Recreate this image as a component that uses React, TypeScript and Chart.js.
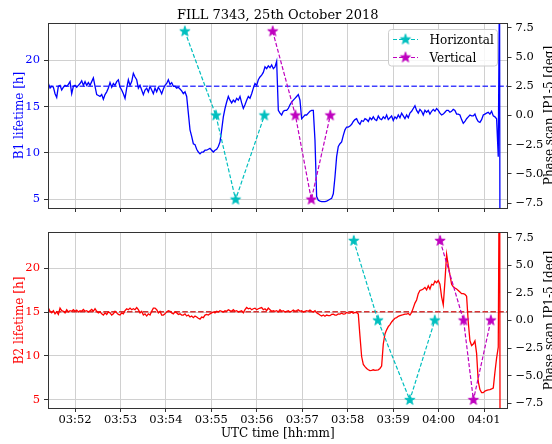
import React, { useEffect, useRef } from 'react';
import { Chart, registerables } from 'chart.js';

Chart.register(...registerables);

// ---------------- data ----------------
const TITLE = 'FILL 7343, 25th October 2018';
const X_TITLE = 'UTC time [hh:mm]';
const PHASE_TITLE = 'Phase scan IP1-5 [deg]';

const timeTicks = ['03:52', '03:53', '03:54', '03:55', '03:56', '03:57', '03:58', '03:59', '04:00', '04:01'];
const lifetimeTicks = [5, 10, 15, 20];
const phaseTicks = [-7.5, -5, -2.5, 0, 2.5, 5, 7.5];

const SERIES_START = '03:51:24.8';
const SAMPLE_STEP = 2.2; // seconds between lifetime samples

const b1Lifetime = [
  17.5, 17.0, 17.2, 17.1, 16.4, 16.0, 17.2, 17.3, 16.8, 17.1, 17.3, 17.2, 17.4, 17.7, 16.4, 17.2, 17.3, 17.1, 17.3, 17.5,
  17.8, 17.3, 17.7, 17.3, 17.6, 17.3, 17.7, 18.1, 17.2, 16.3, 16.2, 16.1, 16.3, 15.8, 16.3, 16.6, 17.0, 17.6, 17.1, 17.5,
  17.3, 17.7, 17.9, 17.1, 16.8, 16.4, 15.9, 17.0, 17.9, 17.3, 17.7, 18.6, 18.2, 17.9, 17.0, 17.3, 16.8, 16.3, 16.8, 17.0,
  16.6, 17.2, 16.8, 16.4, 17.0, 16.6, 17.1, 16.8, 16.4, 16.9, 17.3, 17.5, 17.9, 17.4, 17.6, 17.2, 17.2, 17.0, 17.1, 16.9,
  16.7, 16.4, 16.6, 16.1, 14.3, 12.5, 11.8, 11.0, 10.9, 10.4, 10.1, 9.9, 10.1, 10.1, 10.3, 10.3, 10.4, 10.5, 10.3, 10.1,
  10.3, 10.4, 10.7, 11.2, 12.5, 13.9, 14.8, 15.5, 16.1, 15.7, 15.4, 15.7, 15.5, 15.9, 15.7, 16.1, 15.4, 14.8, 15.2, 15.7,
  16.1, 15.9, 16.4, 17.0, 17.5, 17.3, 17.9, 18.2, 18.4, 18.7, 19.3, 19.1, 19.4, 19.2, 19.5, 19.1, 19.3, 19.9, 14.6, 14.3,
  14.1, 14.5, 14.6, 14.6, 14.8, 15.2, 15.5, 15.7, 15.9, 16.1, 16.3, 15.7, 13.7, 13.9, 14.1, 14.1, 14.3, 14.5, 14.6, 14.6,
  11.4, 5.3, 4.9, 4.8, 4.75, 4.75, 4.75, 4.8, 4.9, 5.0, 5.1, 5.6, 7.4, 9.6, 10.7, 11.0, 11.2, 11.9, 12.5, 12.8,
  12.8, 12.9, 13.1, 13.4, 13.6, 13.7, 13.3, 13.1, 13.5, 13.4, 13.7, 13.6, 13.4, 13.8, 13.6, 13.9, 13.6, 13.5, 14.0, 13.7,
  13.6, 13.9, 13.7, 14.1, 13.6, 13.8, 14.0, 13.5, 13.9, 13.7, 14.1, 13.8, 14.3, 14.0, 13.7, 14.1, 13.8, 14.3, 14.5, 14.8,
  15.1, 14.6, 14.3, 14.7, 14.5, 14.1, 14.6, 14.4, 14.6, 14.2, 14.5, 14.7, 14.5, 14.8, 14.6, 14.3, 14.1, 14.2, 14.4, 14.6,
  14.6, 14.4, 14.5, 14.7, 14.6, 14.2, 14.2, 14.1, 13.6, 13.2, 13.4, 13.7, 13.9, 14.1, 14.0, 14.0, 14.2, 13.7, 13.4, 13.3,
  13.6, 14.1, 14.2, 14.3, 14.4, 14.2, 14.5, 14.0, 13.9, 13.7, 9.6,
];
const b1DumpTimes = ['04:01:20.5', '04:01:21.2'];
const b1DumpValues = [30, -10];
const b1Reference = 17.2;

const b2Lifetime = [
  15.45, 15.09, 14.91, 15.16, 14.80, 15.02, 14.73, 15.45, 15.16, 15.09, 14.91, 15.27, 15.02, 15.16, 15.09, 15.27, 15.09, 15.23, 15.02, 15.16,
  15.09, 15.30, 15.09, 15.16, 15.02, 15.16, 15.30, 15.09, 15.38, 15.09, 14.91, 15.02, 14.80, 14.66, 14.91, 14.73, 15.02, 14.91, 14.66, 14.80,
  15.09, 14.91, 14.73, 14.66, 14.91, 14.80, 15.16, 15.38, 15.27, 15.45, 15.27, 15.38, 15.27, 15.52, 15.27, 14.91, 15.09, 14.66, 14.80, 14.55,
  14.80, 14.66, 15.09, 15.45, 15.45, 15.27, 14.91, 15.09, 14.66, 14.66, 14.80, 15.02, 15.16, 15.09, 14.91, 14.80, 15.02, 14.91, 14.73, 14.80,
  14.66, 14.66, 14.80, 14.55, 14.66, 14.44, 14.55, 14.37, 14.55, 14.44, 14.30, 14.19, 14.44, 14.37, 14.66, 14.73, 14.66, 14.80, 14.91, 15.02,
  14.91, 15.09, 15.02, 15.16, 15.09, 15.02, 15.16, 15.09, 15.27, 15.16, 15.09, 15.27, 15.09, 15.16, 15.02, 15.09, 15.16, 14.91, 15.27, 15.52,
  15.38, 15.45, 15.27, 15.38, 15.45, 15.27, 15.38, 15.45, 15.52, 15.27, 15.38, 15.16, 15.45, 15.27, 15.09, 15.16, 15.09, 15.16, 15.02, 15.27,
  15.09, 15.16, 15.02, 15.09, 15.16, 15.02, 15.09, 15.23, 15.09, 15.16, 15.27, 15.09, 15.16, 15.02, 15.09, 15.16, 15.09, 15.23, 15.09, 15.02,
  15.16, 14.91, 14.80, 14.66, 14.55, 14.66, 14.52, 14.66, 14.59, 14.59, 14.73, 14.77, 14.66, 14.66, 14.80, 14.77, 14.87, 14.77, 14.80, 14.95,
  14.87, 14.87, 15.02, 14.87, 14.95, 14.95, 14.77, 12.26, 9.93, 9.03, 8.78, 8.57, 8.42, 8.32, 8.35, 8.42, 8.35, 8.39, 8.42, 8.57,
  8.85, 11.36, 12.51, 12.97, 13.33, 13.58, 13.87, 14.09, 14.30, 14.37, 14.52, 14.59, 14.66, 14.70, 14.77, 14.77, 14.84, 14.66, 14.95, 15.48,
  16.02, 16.38, 17.10, 17.46, 17.53, 17.63, 17.81, 17.53, 17.99, 17.63, 18.17, 18.10, 18.53, 18.35, 18.60, 18.17, 16.74, 15.84, 18.53, 21.58,
  20.32, 19.25, 18.17, 17.89, 17.74, 17.63, 17.46, 17.28, 17.10, 17.10, 17.03, 16.81, 13.87, 11.72, 11.18, 11.36, 11.72, 10.29, 7.06, 6.16,
  5.81, 5.81, 5.99, 6.06, 6.13, 6.16, 6.24, 6.34, 8.14, 9.75, 11.0,
];
const b2DumpTimes = ['04:01:20.6', '04:01:21.3'];
const b2DumpValues = [40, -10];
const b2Reference = 15.05;

// phase scan points (time, phase in deg)
const b1HorizontalTimes = ['03:54:25', '03:55:06', '03:55:32', '03:56:10'];
const b1HorizontalPhase = [7.2, 0, -7.2, 0];
const b1VerticalTimes = ['03:56:21', '03:56:51', '03:57:12', '03:57:37'];
const b1VerticalPhase = [7.2, 0, -7.2, 0];
const b2HorizontalTimes = ['03:58:08', '03:58:40', '03:59:22', '03:59:55'];
const b2HorizontalPhase = [7.2, 0, -7.2, 0];
const b2VerticalTimes = ['04:00:02', '04:00:33', '04:00:46', '04:01:09'];
const b2VerticalPhase = [7.2, 0, -7.2, 0];

// axis limits
const X_MIN = '03:51:24.3';
const X_MAX = '04:01:31';
const LIFE_MIN = 4.06;
const LIFE_MAX = 24.03;
const PHASE_MIN = -7.92;
const PHASE_MAX = 7.92;

// ---------------- helpers ----------------
const FONT = '"DejaVu Serif", serif';
const CYAN = '#00bfbf';
const MAGENTA = '#bf00bf';

const toSec = (s: string) => {
  const p = s.split(':').map(Number);
  return p[0] * 3600 + p[1] * 60 + (p[2] || 0);
};
const fmtTime = (v: number) => {
  const h = Math.floor(v / 3600);
  const m = Math.round((v - h * 3600) / 60);
  return String(h).padStart(2, '0') + ':' + String(m).padStart(2, '0');
};
const fmtPhase = (v: number) => (v < 0 ? '\u2212' : '') + Math.abs(v).toFixed(1);

function makeStar(color: string) {
  const size = 14;
  const c = document.createElement('canvas');
  c.width = size;
  c.height = size;
  const g = c.getContext('2d')!;
  const R = 5.4;
  const r = R * 0.382;
  const cx = size / 2;
  const cy = size / 2;
  g.beginPath();
  for (let k = 0; k < 10; k++) {
    const ang = -Math.PI / 2 + (k * Math.PI) / 5;
    const rad = k % 2 ? r : R;
    g.lineTo(cx + rad * Math.cos(ang), cy + rad * Math.sin(ang));
  }
  g.closePath();
  g.fillStyle = color;
  g.fill();
  g.strokeStyle = color;
  g.lineWidth = 1;
  g.stroke();
  return c;
}

const seriesPoints = (values: number[], dumpTimes: string[], dumpValues: number[]) => {
  const t0 = toSec(SERIES_START);
  return [
    ...values.map((v, i) => ({ x: t0 + i * SAMPLE_STEP, y: v })),
    ...dumpTimes.map((t, i) => ({ x: toSec(t), y: dumpValues[i] })),
  ];
};
const scanPoints = (times: string[], phase: number[]) => times.map((t, i) => ({ x: toSec(t), y: phase[i] }));

type Panel = {
  top: boolean;
  color: string;
  refColor: string;
  lifeLabel: string;
  lifetime: number[];
  dumpTimes: string[];
  dumpValues: number[];
  reference: number;
  hTimes: string[];
  hPhase: number[];
  vTimes: string[];
  vPhase: number[];
};

function buildConfig(p: Panel, starC: HTMLCanvasElement, starM: HTMLCanvasElement): any {
  const xMin = toSec(X_MIN);
  const xMax = toSec(X_MAX);
  const decor = {
    id: 'decor',
    afterDraw(chart: any) {
      const { ctx, chartArea: a } = chart;
      ctx.save();
      // spines
      ctx.strokeStyle = '#333333';
      ctx.lineWidth = 1;
      const l = Math.floor(a.left) + 0.5;
      const t = Math.floor(a.top) + 0.5;
      const r = Math.floor(a.right) + 0.5;
      const b = Math.floor(a.bottom) + 0.5;
      ctx.strokeRect(l, t, r - l, b - t);
      const cy = (a.top + a.bottom) / 2;
      const cx = (a.left + a.right) / 2;
      // left label
      ctx.font = '12px ' + FONT;
      ctx.textAlign = 'center';
      ctx.textBaseline = 'alphabetic';
      ctx.fillStyle = p.color;
      ctx.save();
      ctx.translate(22.5, cy);
      ctx.rotate(-Math.PI / 2);
      ctx.fillText(p.lifeLabel, 0, 0);
      ctx.restore();
      // right label
      ctx.fillStyle = '#000';
      ctx.save();
      ctx.translate(553, cy);
      ctx.rotate(-Math.PI / 2);
      ctx.fillText(PHASE_TITLE, 0, 0);
      ctx.restore();
      if (p.top) {
        ctx.font = '13px ' + FONT;
        ctx.fillText(TITLE, cx, 19);
        // legend
        const bx = 388.5, by = 29.5, bw = 109, bh = 36.5, rr = 3;
        ctx.beginPath();
        ctx.moveTo(bx + rr, by);
        ctx.arcTo(bx + bw, by, bx + bw, by + bh, rr);
        ctx.arcTo(bx + bw, by + bh, bx, by + bh, rr);
        ctx.arcTo(bx, by + bh, bx, by, rr);
        ctx.arcTo(bx, by, bx + bw, by, rr);
        ctx.closePath();
        ctx.fillStyle = 'rgba(255,255,255,0.8)';
        ctx.fill();
        ctx.strokeStyle = '#cccccc';
        ctx.stroke();
        const rows = [
          { y: 39.5, color: CYAN, star: starC, text: 'Horizontal' },
          { y: 57.5, color: MAGENTA, star: starM, text: 'Vertical' },
        ];
        ctx.font = '12px ' + FONT;
        ctx.textAlign = 'left';
        for (const row of rows) {
          ctx.strokeStyle = row.color;
          ctx.lineWidth = 1.2;
          ctx.setLineDash([4, 2]);
          ctx.beginPath();
          ctx.moveTo(393, row.y);
          ctx.lineTo(418, row.y);
          ctx.stroke();
          ctx.setLineDash([]);
          ctx.drawImage(row.star, 405.5 - 7, row.y - 7);
          ctx.fillStyle = '#000';
          ctx.fillText(row.text, 429.5, row.y + 4);
        }
      } else {
        ctx.font = '12px ' + FONT;
        ctx.textAlign = 'center';
        ctx.fillStyle = '#000';
        ctx.fillText(X_TITLE, cx, 215);
      }
      ctx.restore();
    },
  };

  return {
    type: 'line',
    data: {
      datasets: [
        {
          data: scanPoints(p.hTimes, p.hPhase),
          yAxisID: 'yPhase',
          borderColor: CYAN,
          borderWidth: 1.2,
          borderDash: [4, 2],
          pointStyle: starC,
          pointRadius: 6,
          clip: false,
          order: 0,
        },
        {
          data: scanPoints(p.vTimes, p.vPhase),
          yAxisID: 'yPhase',
          borderColor: MAGENTA,
          borderWidth: 1.2,
          borderDash: [4, 2],
          pointStyle: starM,
          pointRadius: 6,
          clip: false,
          order: 0,
        },
        {
          data: [
            { x: xMin, y: p.reference },
            { x: xMax, y: p.reference },
          ],
          yAxisID: 'yLife',
          borderColor: p.refColor,
          borderWidth: 1.5,
          borderDash: [5.5, 2.4],
          pointRadius: 0,
          order: 2,
        },
        {
          data: seriesPoints(p.lifetime, p.dumpTimes, p.dumpValues),
          yAxisID: 'yLife',
          borderColor: p.color,
          borderWidth: 1.3,
          pointRadius: 0,
          clip: 0,
          order: 1,
        },
      ],
    },
    options: {
      animation: false,
      responsive: false,
      devicePixelRatio: 1,
      events: [],
      layout: { padding: { top: p.top ? 23 : 0.5, left: 0, right: 0, bottom: 0 } },
      plugins: { legend: { display: false }, tooltip: { enabled: false }, title: { display: false } },
      scales: {
        x: {
          type: 'linear',
          min: xMin,
          max: xMax,
          afterBuildTicks: (s: any) => {
            s.ticks = timeTicks.map((t) => ({ value: toSec(t) }));
          },
          afterFit: (s: any) => {
            s.height = p.top ? 14 : 36;
          },
          ticks: {
            display: !p.top,
            autoSkip: false,
            maxRotation: 0,
            padding: 1,
            color: '#000',
            font: { family: FONT, size: 11.5 },
            callback: (v: number) => fmtTime(v),
          },
          grid: { color: '#d0d0d0', lineWidth: 1, tickColor: '#333', tickLength: 4 },
          border: { display: false },
        },
        yLife: {
          type: 'linear',
          position: 'left',
          min: LIFE_MIN,
          max: LIFE_MAX,
          afterBuildTicks: (s: any) => {
            s.ticks = lifetimeTicks.map((v) => ({ value: v }));
          },
          afterFit: (s: any) => {
            s.width = 48;
          },
          ticks: { color: p.color, padding: 4, font: { family: FONT, size: 11.5 } },
          grid: { color: '#d0d0d0', lineWidth: 1, tickColor: '#333', tickLength: 4 },
          border: { display: false },
        },
        yPhase: {
          type: 'linear',
          position: 'right',
          min: PHASE_MIN,
          max: PHASE_MAX,
          afterBuildTicks: (s: any) => {
            s.ticks = phaseTicks.map((v) => ({ value: v }));
          },
          afterFit: (s: any) => {
            s.width = 44.5;
          },
          ticks: {
            color: '#000',
            padding: 4,
            font: { family: FONT, size: 11.5 },
            callback: (v: number) => fmtPhase(v),
          },
          grid: { drawOnChartArea: false, tickColor: '#333', tickLength: 4 },
          border: { display: false },
        },
      },
    },
    plugins: [decor],
  };
}

export default function App() {
  const topRef = useRef<HTMLCanvasElement>(null);
  const botRef = useRef<HTMLCanvasElement>(null);

  useEffect(() => {
    const starC = makeStar(CYAN);
    const starM = makeStar(MAGENTA);
    const c1 = new Chart(
      topRef.current!,
      buildConfig(
        {
          top: true,
          color: '#0000ff',
          refColor: 'rgba(30,30,255,0.85)',
          lifeLabel: 'B1 lifetime [h]',
          lifetime: b1Lifetime,
          dumpTimes: b1DumpTimes,
          dumpValues: b1DumpValues,
          reference: b1Reference,
          hTimes: b1HorizontalTimes,
          hPhase: b1HorizontalPhase,
          vTimes: b1VerticalTimes,
          vPhase: b1VerticalPhase,
        },
        starC,
        starM
      )
    );
    const c2 = new Chart(
      botRef.current!,
      buildConfig(
        {
          top: false,
          color: '#ff0000',
          refColor: 'rgba(210,30,30,0.9)',
          lifeLabel: 'B2 lifetime [h]',
          lifetime: b2Lifetime,
          dumpTimes: b2DumpTimes,
          dumpValues: b2DumpValues,
          reference: b2Reference,
          hTimes: b2HorizontalTimes,
          hPhase: b2HorizontalPhase,
          vTimes: b2VerticalTimes,
          vPhase: b2VerticalPhase,
        },
        starC,
        starM
      )
    );
    return () => {
      c1.destroy();
      c2.destroy();
    };
  }, []);

  return (
    <div style={{ position: 'absolute', left: 0, top: 0, width: 552, height: 444, background: '#fff' }}>
      <canvas ref={topRef} width={552} height={222} style={{ position: 'absolute', left: 0, top: 0 }} />
      <canvas ref={botRef} width={552} height={222} style={{ position: 'absolute', left: 0, top: 222 }} />
    </div>
  );
}
